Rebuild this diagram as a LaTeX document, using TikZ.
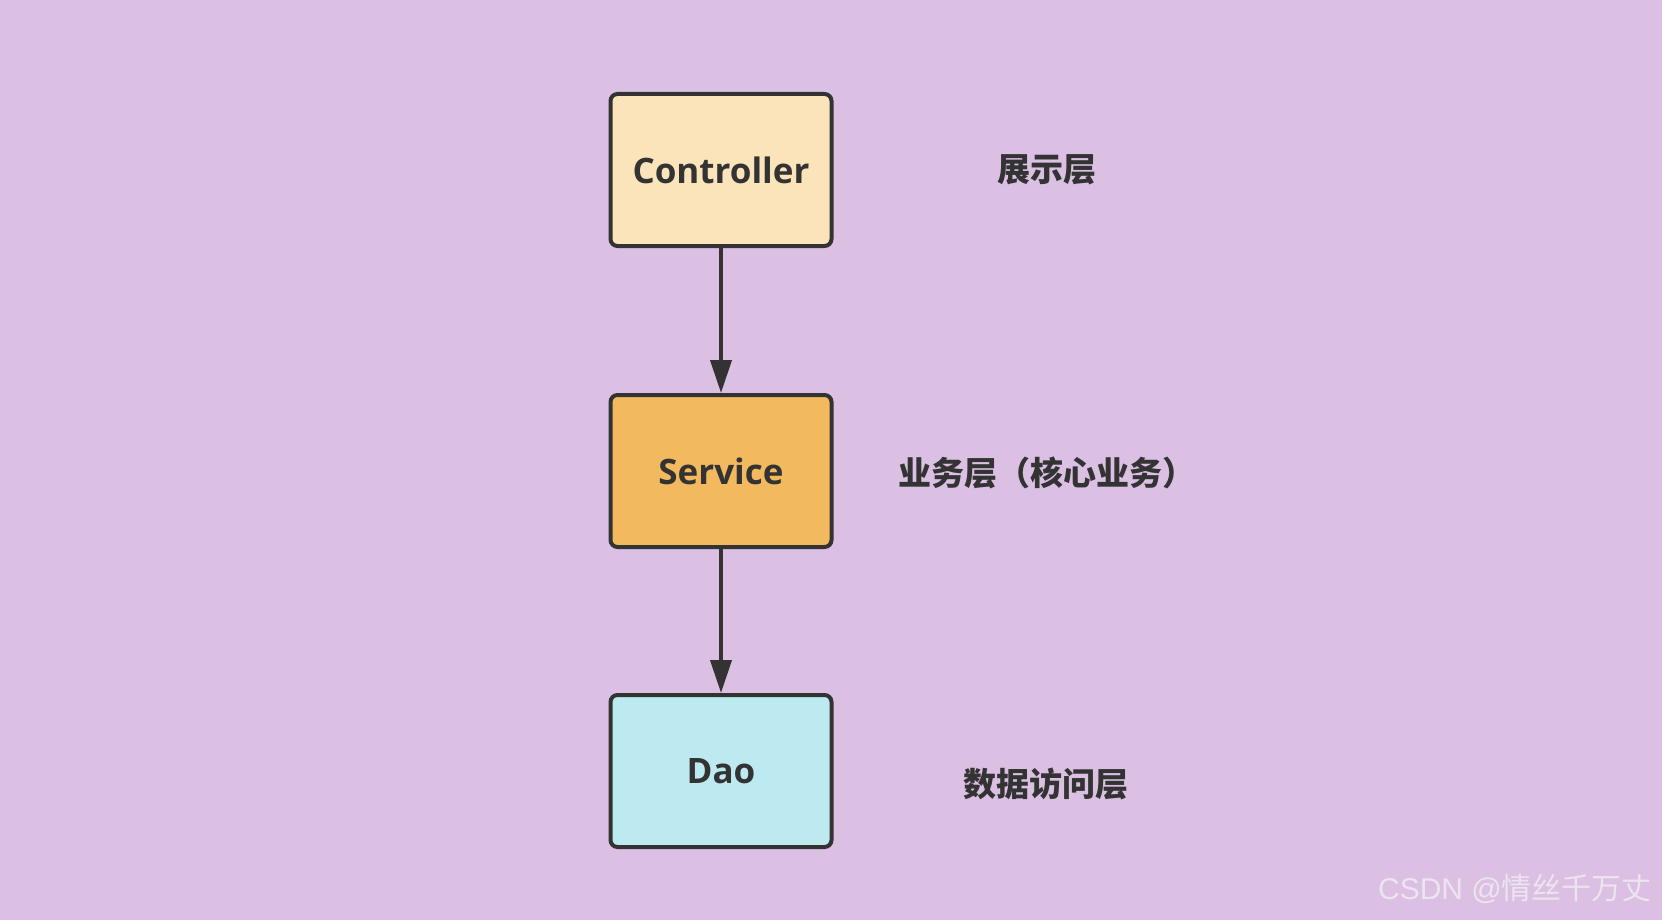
\documentclass[tikz,border=0pt]{standalone}
\usepackage{fontspec}
\usetikzlibrary{arrows.meta}
\newfontfamily\latf{Open Sans}
\newfontfamily\cjkf{Noto Sans CJK SC}
\definecolor{bgc}{RGB}{219,192,228}
\definecolor{ink}{RGB}{51,51,51}
\definecolor{ctrlc}{RGB}{251,228,185}
\definecolor{servc}{RGB}{243,185,95}
\definecolor{daoc}{RGB}{188,234,240}
\definecolor{wmc}{RGB}{236,228,238}
\tikzset{
  layerbox/.style={draw=ink, line width=4pt, rounded corners=7pt, minimum width=221pt, minimum height=152pt, inner sep=0pt, text=ink, font=\latf\bfseries\fontsize{35}{40}\selectfont},
  layerlabel/.style={text=ink, inner sep=0pt, font=\cjkf\bfseries\fontsize{33}{38}\selectfont},
  flow/.style={draw=ink, line width=4pt, -{Triangle[length=33pt,width=21pt]}}
}
\begin{document}
\begin{tikzpicture}[x=1pt,y=-1pt]
\fill[bgc] (0,0) rectangle (1662,920);
\useasboundingbox (0,0) rectangle (1662,920);
\node[layerbox, fill=ctrlc] (ctrl) at (721,170) {Controller};
\node[layerbox, fill=servc] (serv) at (721,471) {Service};
\node[layerbox, fill=daoc] (dao) at (721,771) {Dao};
\draw[flow] (ctrl.south) -- (serv.north);
\draw[flow] (serv.south) -- (dao.north);
\node[layerlabel] (l1) at (1047,170) {展示层};
\node[layerlabel] (l2) at (1047,473) {业务层（核心业务）};
\node[layerlabel] (l3) at (1046,784) {数据访问层};
\node[text=wmc, inner sep=0pt, font=\cjkf\fontsize{30}{34}\selectfont] (wm) at (1515,889) {{\fontspec{Liberation Sans}CSDN @}情丝千万丈};
\end{tikzpicture}
\end{document}
